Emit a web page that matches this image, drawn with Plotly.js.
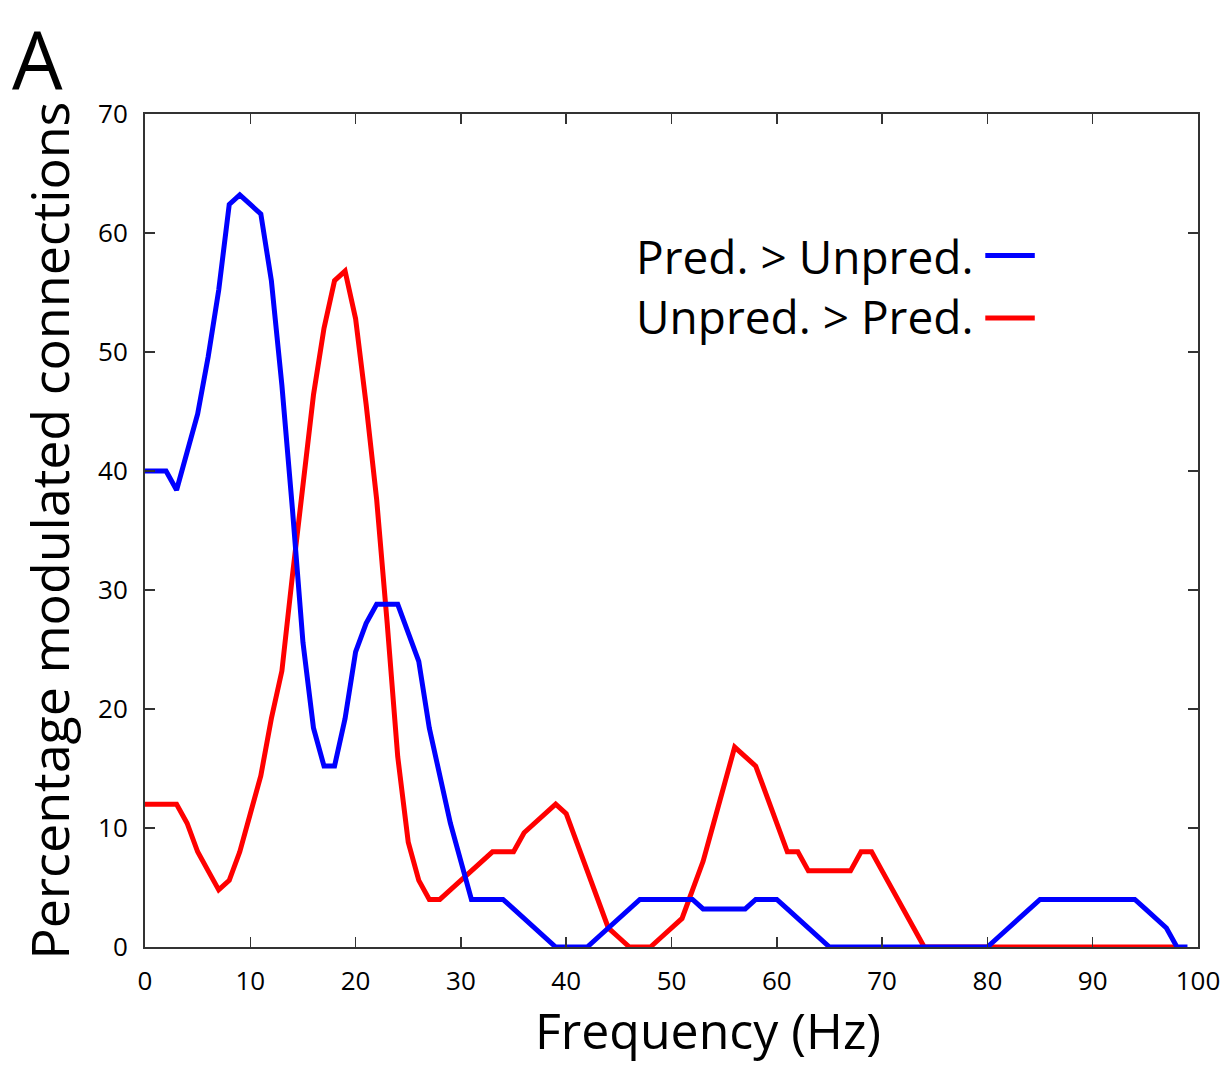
<!DOCTYPE html>
<html>
<head>
<meta charset="utf-8">
<script src="https://cdn.plot.ly/plotly-3.0.1.min.js"></script>
<style>html,body{margin:0;padding:0;background:#fff;}#chart{width:1223px;height:1066px;}</style>
</head>
<body>
<div id="chart"></div>
<script>
const freqBlue = Array.from({length: 100}, (_, i) => i);
const freqRed = Array.from({length: 99}, (_, i) => i);

const predGtUnpred = [
  40, 40, 40, 38.4, 41.6, 44.8, 49.6, 55.2, 62.4, 63.2,
  62.4, 61.6, 56, 47.2, 36.8, 25.6, 18.4, 15.2, 15.2, 19.2,
  24.8, 27.2, 28.8, 28.8, 28.8, 26.4, 24, 18.4, 14.4, 10.4,
  7.2, 4, 4, 4, 4, 3.2, 2.4, 1.6, 0.8, 0,
  0, 0, 0, 0.8, 1.6, 2.4, 3.2, 4, 4, 4,
  4, 4, 4, 3.2, 3.2, 3.2, 3.2, 3.2, 4, 4,
  4, 3.2, 2.4, 1.6, 0.8, 0, 0, 0, 0, 0,
  0, 0, 0, 0, 0, 0, 0, 0, 0, 0,
  0, 0.8, 1.6, 2.4, 3.2, 4, 4, 4, 4, 4,
  4, 4, 4, 4, 4, 3.2, 2.4, 1.6, 0, 0
];

const unpredGtPred = [
  12, 12, 12, 12, 10.4, 8, 6.4, 4.8, 5.6, 8,
  11.2, 14.4, 19.2, 23.2, 31.2, 39.2, 46.4, 52, 56, 56.8,
  52.8, 45.6, 37.6, 27.2, 16, 8.8, 5.6, 4, 4, 4.8,
  5.6, 6.4, 7.2, 8, 8, 8, 9.6, 10.4, 11.2, 12,
  11.2, 8.8, 6.4, 4, 1.6, 0.8, 0, 0, 0, 0.8,
  1.6, 2.4, 4.8, 7.2, 10.4, 13.6, 16.8, 16, 15.2, 12.8,
  10.4, 8, 8, 6.4, 6.4, 6.4, 6.4, 6.4, 8, 8,
  6.4, 4.8, 3.2, 1.6, 0, 0, 0, 0, 0, 0,
  0, 0, 0, 0, 0, 0, 0, 0, 0, 0,
  0, 0, 0, 0, 0, 0, 0, 0, 0
];

const seriesNames = ["Pred. > Unpred.", "Unpred. > Pred."];
const xTicks = [0, 10, 20, 30, 40, 50, 60, 70, 80, 90, 100];
const yTicks = [0, 10, 20, 30, 40, 50, 60, 70];
const xTitle = 'Frequency (Hz)';
const yTitle = 'Percentage modulated connections';
const panelLabel = 'A';

const FONT = '"Open Sans", "Noto Sans", sans-serif';
const BLUE = '#0000ff';
const RED = '#ff0000';

const traces = [
  {x: freqRed, y: unpredGtPred, type: 'scatter', mode: 'lines', name: seriesNames[1],
   line: {color: RED, width: 5, shape: 'linear'}, hoverinfo: 'skip'},
  {x: freqBlue, y: predGtUnpred, type: 'scatter', mode: 'lines', name: seriesNames[0],
   line: {color: BLUE, width: 5, shape: 'linear'}, hoverinfo: 'skip'}
];

const axisCommon = {
  showgrid: false, zeroline: false, showline: true, linecolor: '#333', linewidth: 2,
  mirror: 'ticks', ticks: 'inside', ticklen: 10, tickwidth: 1.5, tickcolor: '#333',
  tickfont: {family: FONT, size: 26, color: '#000'}
};

const layout = {
  width: 1223, height: 1066,
  margin: {l: 145, r: 25, t: 114, b: 119},
  paper_bgcolor: '#fff', plot_bgcolor: '#fff',
  showlegend: false,
  font: {family: FONT, color: '#000'},
  xaxis: Object.assign({}, axisCommon, {
    range: [0, 100], tickvals: xTicks, ticktext: xTicks.map(String), ticklabelstandoff: 10
  }),
  yaxis: Object.assign({}, axisCommon, {
    range: [0, 70], tickvals: yTicks, ticktext: yTicks.map(String), ticklabelstandoff: 10
  }),
  annotations: [
    {text: panelLabel, xref: 'paper', yref: 'paper', x: -0.128, y: 1.1357, xanchor: 'left', yanchor: 'top',
     showarrow: false, font: {family: FONT, size: 80, color: '#000'}},
    {text: xTitle, xref: 'paper', yref: 'paper', x: 0.535, y: -0.1425, xanchor: 'center', yanchor: 'bottom',
     showarrow: false, font: {family: FONT, size: 50, color: '#000'}},
    {text: yTitle, xref: 'paper', yref: 'paper', x: -0.092, y: 0.5, xanchor: 'center', yanchor: 'middle',
     textangle: -90, showarrow: false, font: {family: FONT, size: 52, color: '#000'}},
    {text: seriesNames[0], xref: 'paper', yref: 'paper', x: 0.788, y: 0.830, xanchor: 'right', yanchor: 'middle',
     showarrow: false, font: {family: FONT, size: 46, color: '#000'}},
    {text: seriesNames[1], xref: 'paper', yref: 'paper', x: 0.788, y: 0.758, xanchor: 'right', yanchor: 'middle',
     showarrow: false, font: {family: FONT, size: 46, color: '#000'}}
  ],
  shapes: [
    {type: 'line', xref: 'paper', yref: 'paper', x0: 0.798, x1: 0.845, y0: 0.830, y1: 0.830,
     line: {color: BLUE, width: 5}},
    {type: 'line', xref: 'paper', yref: 'paper', x0: 0.798, x1: 0.845, y0: 0.755, y1: 0.755,
     line: {color: RED, width: 5}}
  ]
};

Plotly.newPlot('chart', traces, layout, {staticPlot: true, displayModeBar: false});
</script>
</body>
</html>
